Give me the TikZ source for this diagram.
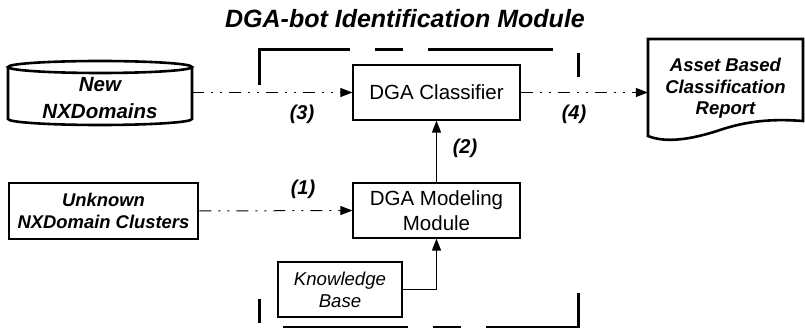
\documentclass[tikz,border=0pt]{standalone}
\usepackage{fontspec}
\setmainfont{Liberation Sans}
\usetikzlibrary{positioning, arrows.meta}

\begin{document}
\begin{tikzpicture}[x=1pt, y=-1pt,
  box/.style={draw, line width=1.2pt, minimum width=167pt, minimum height=55pt,
              inner sep=0pt, align=center, font=\fontsize{20.5}{25}\selectfont},
  srcbox/.style={draw, line width=2.6pt, minimum width=189pt, minimum height=56pt,
              inner sep=0pt, align=center, font=\fontsize{18.4}{22}\selectfont\bfseries\itshape},
  kbbox/.style={draw, line width=1.2pt, minimum width=124pt, minimum height=55pt,
              inner sep=0pt, align=center, font=\fontsize{18.6}{22}\selectfont\itshape},
  num/.style={font=\fontsize{20}{24}\selectfont\bfseries\itshape, inner sep=0pt},
  flow/.style={line width=1pt, dash pattern=on 12pt off 7pt on 2pt off 7pt on 2pt off 7pt,
               -{Triangle[length=12pt, width=9pt]}},
  solidflow/.style={line width=1.2pt, -{Triangle[length=12pt, width=9pt]}},
  outline/.style={line width=2.6pt}
]
  \useasboundingbox (0,0) rectangle (805,328);

  % module frame
  \draw[line width=3pt, dash pattern=on 126pt off 25pt on 28pt off 25pt on 125pt off 28pt on 24pt off 216pt]
    (259,85) -- (259,50) -- (578,50) -- (578,327) -- (259,327) -- cycle;
  \node[font=\fontsize{25}{30}\selectfont\bfseries\itshape] (title) at (405,19)
    {DGA-bot Identification Module};

  % inputs
  \draw[outline] (100,67) ellipse[x radius=92pt, y radius=6pt];
  \draw[outline] (8,67) -- (8,119) arc[start angle=180, end angle=360, x radius=92pt, y radius=6pt] -- (192,67);
  \node[minimum width=184pt, inner sep=0pt, align=center,
        font=\fontsize{20.5}{27}\selectfont\bfseries\itshape] (newnx) at (100,98.5) {New\\NXDomains};
  \node[srcbox] (unk) at (103.5,211) {Unknown\\NXDomain Clusters};

  % module blocks
  \node[box] (clf) at (436.5,92.5) {DGA Classifier};
  \node[box] (mod) at (436.5,210.5) {DGA Modeling\\Module};
  \node[kbbox] (kb) at (340,289.5) {Knowledge\\Base};

  % output report
  \draw[outline] (648,136) -- (648,39) -- (803,39) -- (803,121)
    .. controls (775,119) and (750,120) .. (720,130)
    .. controls (690,140) and (665,143) .. cycle;
  \node[minimum width=155pt, inner sep=0pt, align=center,
        font=\fontsize{18.5}{21.5}\selectfont\bfseries\itshape] (report) at (725.5,88.5)
    {Asset Based\\Classification\\Report};

  % connectors
  \draw[flow] (unk.east) -- (mod.west);
  \draw[flow] (newnx.east |- clf.west) -- (clf.west);
  \draw[flow] (clf.east) -- (clf.east -| report.west);
  \draw[solidflow] (mod.north) -- (clf.south);
  \draw[solidflow] (kb.east) -| (mod.south);

  \node[num] (n1) at (303,189) {(1)};
  \node[num] (n2) at (465,148) {(2)};
  \node[num] (n3) at (302,114) {(3)};
  \node[num] (n4) at (574,114) {(4)};
\end{tikzpicture}
\end{document}
